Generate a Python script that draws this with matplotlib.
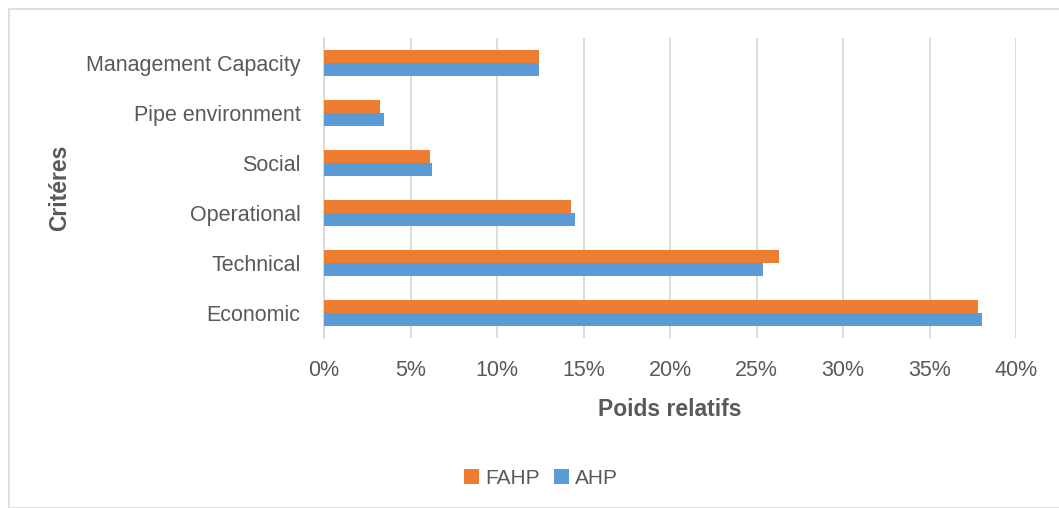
import numpy as np
import matplotlib
matplotlib.use("Agg")
import matplotlib.pyplot as plt
from matplotlib.patches import Rectangle

# valeurs (poids relatifs en %)
criteres = ["Economic", "Technical", "Operational", "Social", "Pipe environment", "Management Capacity"]
fahp = [37.8, 26.3, 14.25, 6.1, 3.25, 12.4]
ahp = [38.05, 25.4, 14.5, 6.25, 3.45, 12.45]
ticks_x = [0, 5, 10, 15, 20, 25, 30, 35, 40]

orange = "#ED7D31"
bleu = "#5B9BD5"
gris_texte = "#595959"

plt.rcParams["font.family"] = ["Liberation Sans", "DejaVu Sans"]

fig = plt.figure(figsize=(10.59, 5.08), dpi=100)
fig.patches.append(Rectangle((9 / 1059, 0), 1.1, 1 - 9 / 508, transform=fig.transFigure,
                             fill=False, edgecolor="#D9D9D9", linewidth=1.2))

ax = fig.add_axes([324 / 1059, 1 - 338 / 508, 692 / 1059, 300 / 508])

y = np.arange(len(criteres))
h = 0.254
ax.barh(y + h / 2, fahp, height=h, color=orange, label="FAHP", zorder=3)
ax.barh(y - h / 2, ahp, height=h, color=bleu, label="AHP", zorder=3)

ax.set_xlim(0, 40)
ax.set_ylim(-0.5, len(criteres) - 0.5)
ax.set_xticks(ticks_x)
ax.set_xticklabels([f"{t}%" for t in ticks_x])
ax.set_yticks(y)
ax.set_yticklabels(criteres)
ax.tick_params(axis="both", length=0, labelsize=15.5, labelcolor=gris_texte)
ax.tick_params(axis="x", pad=16)
ax.tick_params(axis="y", pad=17)
ax.grid(axis="x", color="#D9D9D9", linewidth=1.3, zorder=0)
for s in ["top", "right", "bottom"]:
    ax.spines[s].set_visible(False)
ax.spines["left"].set_color("#D9D9D9")
ax.spines["left"].set_linewidth(1.3)

ax.set_xlabel("Poids relatifs", fontsize=16.5, fontweight="bold", color=gris_texte, labelpad=12)
fig.text(60 / 1059, 1 - 188 / 508, "Critéres", rotation=90, fontsize=16.5, fontweight="bold",
         color=gris_texte, ha="center", va="center")

fig.legend(loc="center", bbox_to_anchor=(541 / 1059, 1 - 478 / 508), ncol=2, frameon=False,
           fontsize=15, labelcolor=gris_texte, handlelength=0.7, handleheight=0.7,
           handletextpad=0.3, columnspacing=0.7)

fig.savefig("out.png", dpi=100)
